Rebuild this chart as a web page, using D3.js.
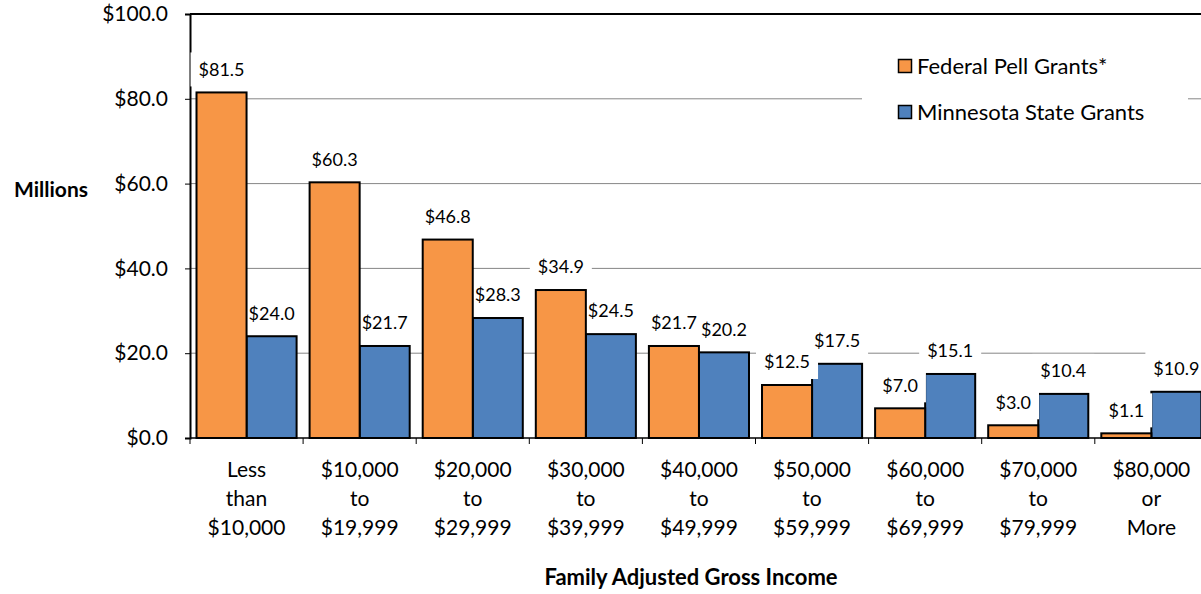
<!DOCTYPE html>
<html>
<head>
<meta charset="utf-8">
<script src="https://cdn.jsdelivr.net/npm/d3@7"></script>
<style>
  body { margin: 0; background: #fff; }
  svg { display: block; font-family: Lato, "Open Sans", sans-serif; }
</style>
</head>
<body>
<div id="chart"></div>
<script>
// #Data
const categories = [
  ['Less', 'than', '$10,000'],
  ['$10,000', 'to', '$19,999'],
  ['$20,000', 'to', '$29,999'],
  ['$30,000', 'to', '$39,999'],
  ['$40,000', 'to', '$49,999'],
  ['$50,000', 'to', '$59,999'],
  ['$60,000', 'to', '$69,999'],
  ['$70,000', 'to', '$79,999'],
  ['$80,000', 'or', 'More']
];
const seriesNames = ['Federal Pell Grants*', 'Minnesota State Grants'];
const pellValues = [81.5, 60.3, 46.8, 34.9, 21.7, 12.5, 7.0, 3.0, 1.1];
const stateValues = [24.0, 21.7, 28.3, 24.5, 20.2, 17.5, 15.1, 10.4, 10.9];
const yTicks = [0, 20, 40, 60, 80, 100];

const colors = ['#F79646', '#4F81BD'];
const w = 1201, h = 594;
const plotLeft = 190, plotTop = 14, plotBottom = 438;
const groupW = 113.1;
const plotRight = plotLeft + groupW * categories.length;

const svg = d3.select('#chart').append('svg')
  .attr('width', w).attr('height', h);

// #Scales
const x = d3.scaleBand()
  .domain(d3.range(categories.length))
  .range([plotLeft, plotRight])
  .padding(0);
const xSub = d3.scaleBand()
  .domain([0, 1])
  .range([0, x.bandwidth()])
  .paddingInner(0)
  .paddingOuter(0.13);
const y = d3.scaleLinear().domain([0, 100]).range([plotBottom, plotTop]);

// #Gridlines
svg.append('g')
  .selectAll('line')
  .data(yTicks.filter(t => t > 0 && t < 100))
  .enter().append('line')
  .attr('x1', plotLeft).attr('x2', plotRight)
  .attr('y1', d => y(d)).attr('y2', d => y(d))
  .attr('stroke', '#868686').attr('stroke-width', 1);

// top border
svg.append('line')
  .attr('x1', plotLeft).attr('x2', plotRight)
  .attr('y1', y(100)).attr('y2', y(100))
  .attr('stroke', '#000').attr('stroke-width', 2);

// #Axes
const yAxis = d3.axisLeft(y).tickValues(yTicks).tickSize(5)
  .tickFormat(d => '$' + d3.format('.1f')(d));
const gy = svg.append('g').attr('transform', 'translate(' + plotLeft + ',0)').call(yAxis);
gy.select('.domain').attr('stroke', '#000').attr('stroke-width', 2);
gy.selectAll('.tick line').attr('stroke', '#000').attr('stroke-width', 1);
gy.selectAll('.tick text')
  .attr('x', -22)
  .style('font-size', '21px')
  .style('font-family', 'Lato, sans-serif')
  .style('font-weight', 'normal')
  .attr('fill', '#000');

const gx = svg.append('g');
gx.append('line')
  .attr('x1', plotLeft).attr('x2', plotRight)
  .attr('y1', plotBottom).attr('y2', plotBottom)
  .attr('stroke', '#000').attr('stroke-width', 1.5);
gx.selectAll('line.tk')
  .data(d3.range(categories.length + 1))
  .enter().append('line')
  .attr('class', 'tk')
  .attr('x1', d => plotLeft + d * groupW).attr('x2', d => plotLeft + d * groupW)
  .attr('y1', plotBottom).attr('y2', plotBottom + 6)
  .attr('stroke', '#000').attr('stroke-width', 1);

const xl = gx.selectAll('text.cat')
  .data(categories).enter().append('text')
  .attr('class', 'cat')
  .attr('text-anchor', 'middle')
  .style('font-size', '21px')
  .attr('fill', '#000');
xl.each(function (d, i) {
  const t = d3.select(this);
  d.forEach((line, j) => {
    t.append('tspan')
      .attr('x', x(i) + x.bandwidth() / 2)
      .attr('y', 477 + j * 29)
      .text(line);
  });
});

// #Bars and label boxes, series drawn in Excel's layering order
const barLayer = svg.append('g');
const textLayer = svg.append('g');
const order = [1, 0];
order.forEach(k => {
  const vals = k === 0 ? pellValues : stateValues;
  barLayer.append('g').selectAll('rect')
    .data(vals).enter().append('rect')
    .attr('x', (d, i) => x(i) + xSub(k))
    .attr('y', d => y(d))
    .attr('width', xSub.bandwidth())
    .attr('height', d => plotBottom - y(d))
    .attr('fill', colors[k])
    .attr('stroke', '#000')
    .attr('stroke-width', 2);
  const boxes = barLayer.append('g');
  vals.forEach((v, i) => {
    const cx = x(i) + xSub(k) + xSub.bandwidth() / 2;
    const cy = y(v) - 23;
    const t = textLayer.append('text')
      .attr('x', cx).attr('y', cy)
      .attr('dy', '0.35em')
      .attr('text-anchor', 'middle')
      .style('font-size', '18px')
      .attr('fill', '#000')
      .text('$' + d3.format('.1f')(v));
    const bb = t.node().getBBox();
    boxes.append('rect')
      .attr('x', bb.x - 8).attr('y', cy - 17)
      .attr('width', bb.width + 16).attr('height', 34)
      .attr('fill', '#fff');
  });
});

// #Legend
const legend = svg.append('g');
legend.append('rect')
  .attr('x', 862).attr('y', 40).attr('width', 326).attr('height', 100)
  .attr('fill', '#fff');
seriesNames.forEach((name, k) => {
  const ly = 66 + k * 46;
  legend.append('rect')
    .attr('x', 898.5).attr('y', ly - 6.5).attr('width', 13).attr('height', 13)
    .attr('fill', colors[k]).attr('stroke', '#000').attr('stroke-width', 1.5);
  legend.append('text')
    .attr('x', 917).attr('y', ly).attr('dy', '0.35em')
    .style('font-size', '22px')
    .attr('fill', '#000')
    .text(name);
});

// #Axis titles
svg.append('text')
  .attr('x', 51).attr('y', 190).attr('dy', '0.35em')
  .attr('text-anchor', 'middle')
  .style('font-size', '21px').style('font-weight', 'bold')
  .text('Millions');
svg.append('text')
  .attr('x', 691).attr('y', 577).attr('dy', '0.35em')
  .attr('text-anchor', 'middle')
  .style('font-size', '22px').style('font-weight', 'bold')
  .text('Family Adjusted Gross Income');
</script>
</body>
</html>
